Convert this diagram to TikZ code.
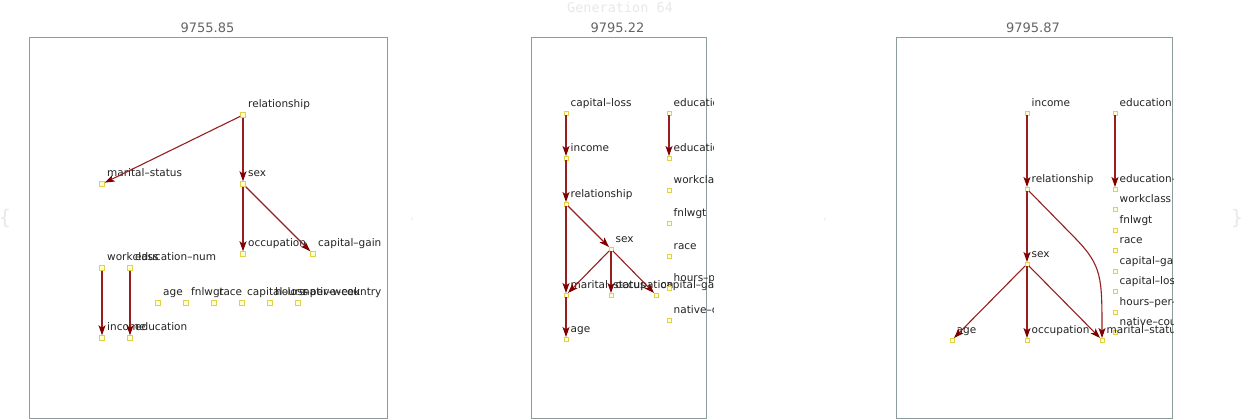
\documentclass[tikz,border=0pt]{standalone}
\usepackage{fontspec}
\setmainfont{DejaVu Sans}
\newfontfamily\monof{DejaVu Sans Mono}
\usetikzlibrary{arrows.meta}
\definecolor{edgecol}{RGB}{150,30,30}
\definecolor{tipcol}{RGB}{128,0,0}
\definecolor{boxcol}{RGB}{140,156,156}
\definecolor{sqborder}{RGB}{226,208,70}
\definecolor{sqfill}{RGB}{255,255,215}
\definecolor{lblcol}{RGB}{34,34,34}
\definecolor{ttlcol}{RGB}{100,100,100}
\definecolor{faint}{RGB}{232,232,232}
\tikzset{
  sqA/.style={draw=sqborder, fill=sqfill, line width=0.9pt, minimum size=5.5pt, inner sep=0pt, outer sep=0pt},
  sqB/.style={draw=sqborder, fill=sqfill, line width=0.8pt, minimum size=4pt, inner sep=0pt, outer sep=0pt},
  lbl/.style={anchor=base west, inner sep=0pt, text=lblcol, font=\fontsize{10.5}{12}\selectfont},
  ttl/.style={text=ttlcol, inner sep=0pt, font=\fontsize{13}{15}\selectfont},
  panel/.style={draw=boxcol, line width=1pt},
  ed/.style={draw=edgecol, line width=1.1pt, -{Stealth[length=10pt,width=7pt,inset=2.5pt,fill=tipcol,color=tipcol]}},
  faintt/.style={text=faint, inner sep=0pt}
}
\newcommand\vnA[4]{\node[sqA] (#1) at (#2,#3) {};\node[lbl] (#1l) at (#2+5,#3-8) {#4};}
\newcommand\vnB[4]{\node[sqB] (#1) at (#2,#3) {};\node[lbl] (#1l) at (#2+4.5,#3-7) {#4};}
\begin{document}
\begin{tikzpicture}[x=1pt,y=-1pt]
\useasboundingbox (0,0) rectangle (1242,420);
% header and list punctuation
\node[faintt, font=\monof\fontsize{13.5}{15}\selectfont] (gen) at (620,7.5) {Generation 64};
\node[faintt, font=\fontsize{20}{22}\selectfont] (lb) at (5,219) {\{};
\node[faintt, font=\fontsize{20}{22}\selectfont] (rb) at (1237,219) {\}};
\node[faintt, font=\fontsize{12}{14}\selectfont] (c1) at (412,219) {,};
\node[faintt, font=\fontsize{12}{14}\selectfont] (c2) at (825,219) {,};
% titles
\node[ttl] (t1) at (207.5,27.5) {9755.85};
\node[ttl] (t2) at (617.5,27.5) {9795.22};
\node[ttl] (t3) at (1033,27.5) {9795.87};
% panel boxes
\draw[panel] (29,38) rectangle (387,418);
\draw[panel] (531,38) rectangle (706,418);
\draw[panel] (896,38) rectangle (1172,418);
% ---------- panel 1
\begin{scope}
\clip (29,38) rectangle (388,418);
\vnA{arel}{243}{115}{relationship}
\vnA{amar}{102}{184}{marital–status}
\vnA{asex}{243}{184}{sex}
\vnA{aocc}{243}{254}{occupation}
\vnA{acg}{313}{254}{capital–gain}
\vnA{awc}{102}{268}{workclass}
\vnA{aen}{130}{268}{education–num}
\vnA{aage}{158}{303}{age}
\vnA{afn}{186}{303}{fnlwgt}
\vnA{arace}{214}{303}{race}
\vnA{acl}{242}{303}{capital–loss}
\vnA{ahpw}{270}{303}{hours–per–week}
\vnA{anc}{298}{303}{native–country}
\vnA{ainc}{102}{338}{income}
\vnA{aedu}{130}{338}{education}
\draw[ed] (arel) -- (amar);
\draw[ed] (arel) -- (asex);
\draw[ed] (asex) -- (aocc);
\draw[ed] (asex) -- (acg);
\draw[ed] (awc) -- (ainc);
\draw[ed] (aen) -- (aedu);
\end{scope}
% ---------- panel 2
\begin{scope}
\clip (531,38) rectangle (713,418);
\vnB{bcl}{566}{113}{capital–loss}
\vnB{binc}{566}{158}{income}
\vnB{brel}{566}{204}{relationship}
\vnB{bsex}{611}{249}{sex}
\vnB{bmar}{566}{295}{marital–status}
\vnB{bocc}{611}{295}{occupation}
\vnB{bcg}{656}{295}{capital–gain}
\vnB{bage}{566}{339}{age}
\vnB{bedu}{669}{113}{education}
\vnB{ben}{669}{158}{education–num}
\vnB{bwc}{669}{190}{workclass}
\vnB{bfn}{669}{223}{fnlwgt}
\vnB{brace}{669}{256}{race}
\vnB{bhpw}{669}{288}{hours–per–week}
\vnB{bnc}{669}{320}{native–country}
\draw[ed] (bcl) -- (binc);
\draw[ed] (bedu) -- (ben);
\draw[ed] (binc) -- (brel);
\draw[ed] (brel) -- (bsex);
\draw[ed] (brel) -- (bmar);
\draw[ed] (bsex) -- (bmar);
\draw[ed] (bsex) -- (bocc);
\draw[ed] (bsex) -- (bcg);
\draw[ed] (bmar) -- (bage);
\end{scope}
% ---------- panel 3
\begin{scope}
\clip (896,38) rectangle (1173,418);
\vnB{cinc}{1027}{113}{income}
\vnB{cedu}{1115}{113}{education}
\vnB{crel}{1027}{189}{relationship}
\vnB{cen}{1115}{189}{education–num}
\vnB{cwc}{1115}{209}{workclass}
\vnB{cfn}{1115}{230}{fnlwgt}
\vnB{crace}{1115}{250}{race}
\vnB{ccg}{1115}{271}{capital–gain}
\vnB{ccl}{1115}{291}{capital–loss}
\vnB{chpw}{1115}{312}{hours–per–week}
\vnB{cnc}{1115}{332}{native–country}
\vnB{csex}{1027}{264}{sex}
\vnB{cage}{952}{340}{age}
\vnB{cocc}{1027}{340}{occupation}
\vnB{cmar}{1102}{340}{marital–status}
\coordinate (cbend) at (1076,239);
\draw[ed] (cinc) -- (crel);
\draw[ed] (cedu) -- (cen);
\draw[ed] (crel) -- (csex);
\draw[ed] (crel) -- (cbend) .. controls (1102,266) and (1102,278) .. (cmar);
\draw[ed] (csex) -- (cage);
\draw[ed] (csex) -- (cocc);
\draw[ed] (csex) -- (cmar);
\end{scope}
\end{tikzpicture}
\end{document}
